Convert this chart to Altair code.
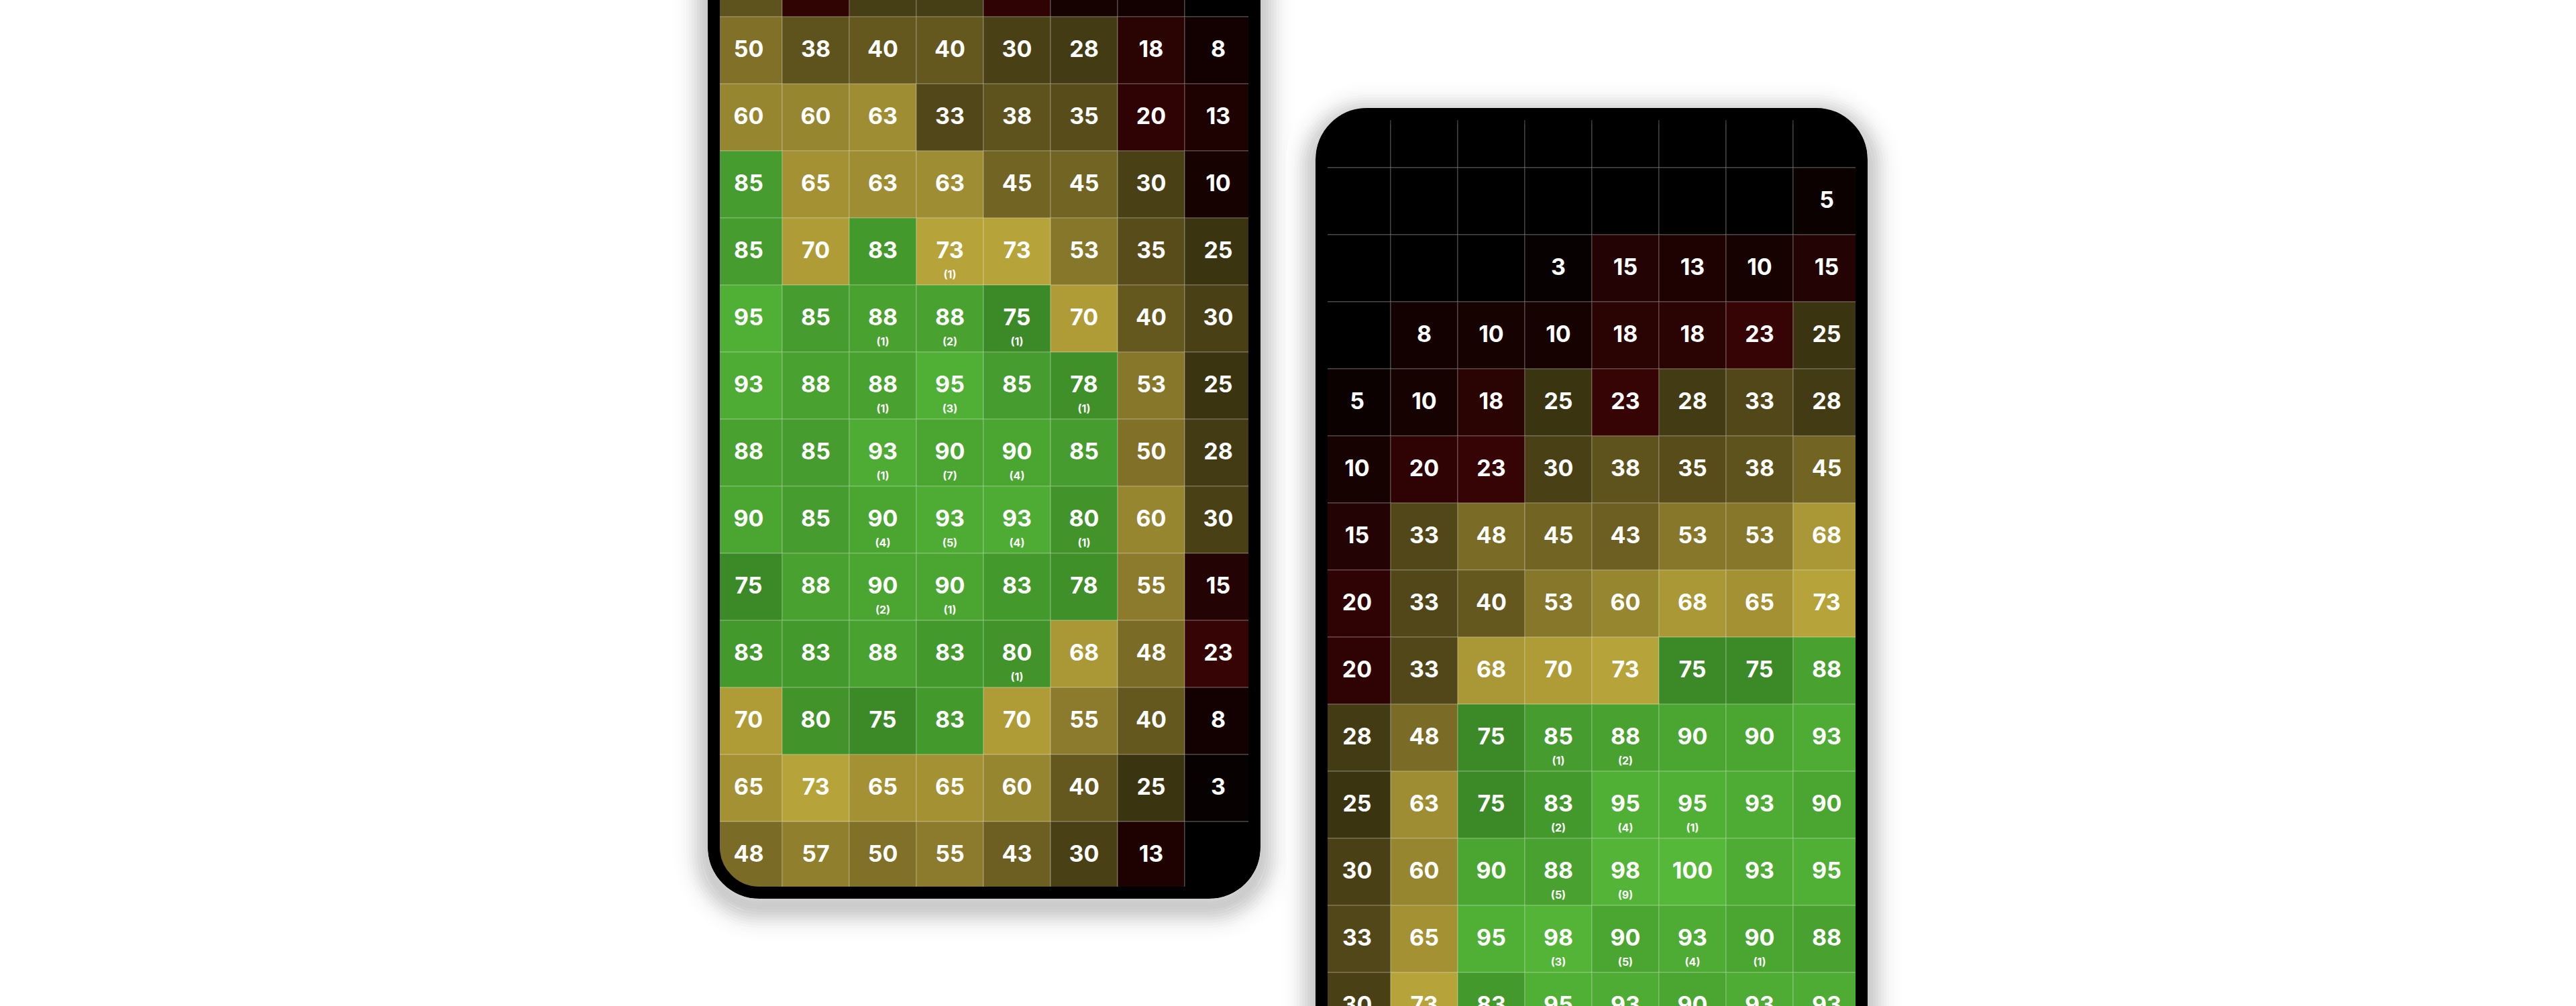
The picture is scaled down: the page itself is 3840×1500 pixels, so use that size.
import math
import altair as alt
import pandas as pd

# ---------------- data ----------------
COLS = ["1", "2", "3", "4", "5", "6", "7", "8"]
ROWS = [str(i) for i in range(14)]

LEFT_VALUES = [
    [38, 21, 29, 29, 20, 10, 8, None],
    [50, 38, 40, 40, 30, 28, 18, 8],
    [60, 60, 63, 33, 38, 35, 20, 13],
    [85, 65, 63, 63, 45, 45, 30, 10],
    [85, 70, 83, 73, 73, 53, 35, 25],
    [95, 85, 88, 88, 75, 70, 40, 30],
    [93, 88, 88, 95, 85, 78, 53, 25],
    [88, 85, 93, 90, 90, 85, 50, 28],
    [90, 85, 90, 93, 93, 80, 60, 30],
    [75, 88, 90, 90, 83, 78, 55, 15],
    [83, 83, 88, 83, 80, 68, 48, 23],
    [70, 80, 75, 83, 70, 55, 40, 8],
    [65, 73, 65, 65, 60, 40, 25, 3],
    [48, 57, 50, 55, 43, 30, 13, None],
]
LEFT_COUNTS = {  # (row, col): count shown in parentheses
    (4, 3): 1,
    (5, 2): 1, (5, 3): 2, (5, 4): 1,
    (6, 2): 1, (6, 3): 3, (6, 5): 1,
    (7, 2): 1, (7, 3): 7, (7, 4): 4,
    (8, 2): 4, (8, 3): 5, (8, 4): 4, (8, 5): 1,
    (9, 2): 2, (9, 3): 1,
    (10, 4): 1,
}
LEFT_HIDDEN_TEXT_ROWS = ["0"]   # row scrolled out of view above the screen

RIGHT_VALUES = [
    [None, None, None, None, None, None, None, None],
    [None, None, None, None, None, None, None, 5],
    [None, None, None, 3, 15, 13, 10, 15],
    [None, 8, 10, 10, 18, 18, 23, 25],
    [5, 10, 18, 25, 23, 28, 33, 28],
    [10, 20, 23, 30, 38, 35, 38, 45],
    [15, 33, 48, 45, 43, 53, 53, 68],
    [20, 33, 40, 53, 60, 68, 65, 73],
    [20, 33, 68, 70, 73, 75, 75, 88],
    [28, 48, 75, 85, 88, 90, 90, 93],
    [25, 63, 75, 83, 95, 95, 93, 90],
    [30, 60, 90, 88, 98, 100, 93, 95],
    [33, 65, 95, 98, 90, 93, 90, 88],
    [30, 73, 83, 95, 93, 90, 93, 93],
]
RIGHT_COUNTS = {
    (9, 3): 1, (9, 4): 2,
    (10, 3): 2, (10, 4): 4, (10, 5): 1,
    (11, 3): 5, (11, 4): 9,
    (12, 3): 3, (12, 4): 5, (12, 5): 4, (12, 6): 1,
}
RIGHT_HIDDEN_TEXT_ROWS = []

COLOR_STOPS = [0, 24, 25, 50, 74, 75, 100]
COLOR_RANGE = ["#000000", "#380404", "#3b3411", "#807028", "#b8a53a",
               "#3c8a27", "#55b838"]


def build(values, counts, hidden):
    recs = []
    for r, row in enumerate(values):
        for c, v in enumerate(row):
            recs.append({"row": ROWS[r], "col": COLS[c], "v": v,
                         "n": counts.get((r, c)),
                         "show": ROWS[r] not in hidden})
    return pd.DataFrame(recs)


left_df = build(LEFT_VALUES, LEFT_COUNTS, LEFT_HIDDEN_TEXT_ROWS)
right_df = build(RIGHT_VALUES, RIGHT_COUNTS, RIGHT_HIDDEN_TEXT_ROWS)

color_scale = alt.Scale(domain=COLOR_STOPS, range=COLOR_RANGE, interpolate="rgb")
FONT = "Inter"


def heat(df, xr, yr):
    x = alt.X("col:O", scale=alt.Scale(domain=COLS, range=xr, paddingInner=0,
                                       paddingOuter=0), axis=None)
    y = alt.Y("row:O", scale=alt.Scale(domain=ROWS, range=yr, paddingInner=0,
                                       paddingOuter=0), axis=None)
    base = alt.Chart(df).encode(x=x, y=y)
    cells = base.mark_rect(stroke="#ffffff", strokeOpacity=0.15, strokeWidth=2).transform_calculate(
        f="isValid(datum.v) ? datum.v : 0"
    ).encode(color=alt.Color("f:Q", scale=color_scale, legend=None))
    nums = base.mark_text(font=FONT, fontSize=34, fontWeight=700, color="white",
                          baseline="middle", align="center").transform_filter(
        "isValid(datum.v) && datum.show").encode(text=alt.Text("v:Q", format="d"))
    subs = base.mark_text(font=FONT, fontSize=16, fontWeight=700, color="white",
                          baseline="middle", align="center", dy=35).transform_filter(
        "isValid(datum.n) && datum.show").transform_calculate(
        t="'(' + format(datum.n, 'd') + ')'").encode(text="t:N")
    return [cells, nums, subs]


one = pd.DataFrame({"k": [0]})


def rrect(x1, y1, x2, y2, **mark):
    return alt.Chart(one).mark_rect(**mark).encode(
        x=alt.value(x1), x2=alt.value(x2), y=alt.value(y1), y2=alt.value(y2))


def phone(outer, radius=77, thick=18):
    x1, y1, x2, y2 = outer
    h = thick / 2
    layers = []
    # black bezel
    layers.append(rrect(x1 + h, y1 + h, x2 - h, y2 - h, fill="black", fillOpacity=0,
                        stroke="black", strokeWidth=thick, cornerRadius=radius - h))
    # white ring outside the bezel (keeps square cell corners hidden)
    m = 22
    layers.append(rrect(x1 - m, y1 - m, x2 + m, y2 + m, fill="white", fillOpacity=0,
                        stroke="white", strokeWidth=2 * m, cornerRadius=radius + m))
    # soft drop shadow
    dy = 12
    w = 4
    for d in range(-12, 68, w):
        a = 0.2 * math.exp(-(((d + 4) / 26.0) ** 2))
        o = d + w / 2
        layers.append(rrect(x1 - o, y1 + dy - o, x2 + o, y2 + dy + o, fill="black",
                            fillOpacity=0, stroke="black", strokeOpacity=a,
                            strokeWidth=w, cornerRadius=max(radius + o, 0)))
    return layers


layers = []
layers += heat(left_df, [1066, 1866], [-75, 1325])
layers += heat(right_df, [1973, 2773], [150, 1550])
layers += phone((1055, -400, 1879, 1340))
layers += phone((1961, 161, 2784, 1900))

chart = alt.layer(*layers).resolve_scale(
    x="independent", y="independent"
).properties(
    width=3840, height=1500, padding=0, background="white",
    autosize=alt.AutoSizeParams(type="none"),
).configure_view(stroke=None)

chart.save("out.html", embed_options={"renderer": "svg", "actions": False})
